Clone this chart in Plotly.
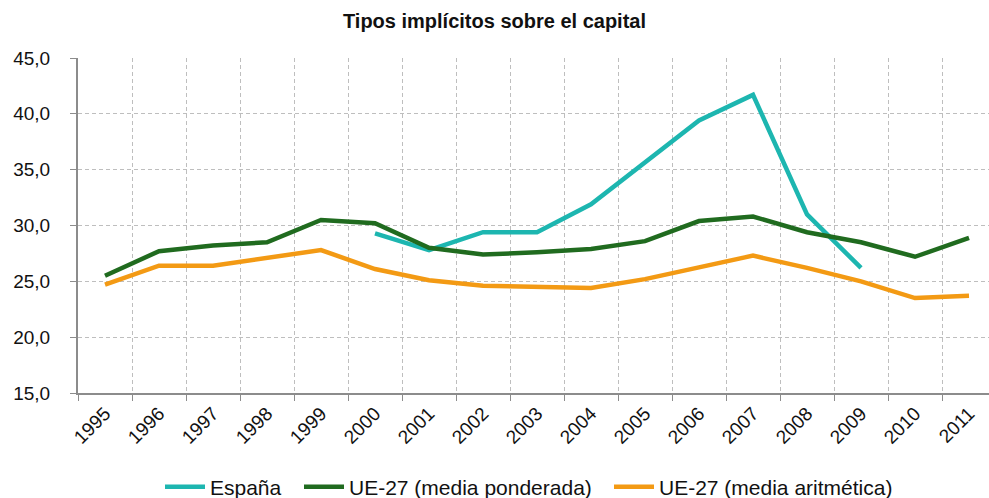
import plotly.graph_objects as go

years = [str(y) for y in range(1995, 2012)]
espana = [None, None, None, None, None, 29.3, 27.8, 29.4, 29.4, 31.9, 35.6, 39.4, 41.7, 31.0, 26.2, None, None]
ue27_pond = [25.5, 27.7, 28.2, 28.5, 30.5, 30.2, 28.0, 27.4, 27.6, 27.9, 28.6, 30.4, 30.8, 29.4, 28.5, 27.2, 28.9]
ue27_arit = [24.7, 26.4, 26.4, 27.1, 27.8, 26.1, 25.1, 24.6, 24.5, 24.4, 25.2, 26.2, 27.3, 26.2, 25.0, 23.5, 23.7]
y_ticks = [15, 20, 25, 30, 35, 40, 45]

series = [
    ("España", espana, "#1DB6B0", "legend", 163),
    ("UE-27 (media ponderada)", ue27_pond, "#206B1F", "legend2", 302),
    ("UE-27 (media aritmética)", ue27_arit, "#F39A14", "legend3", 612),
]

fig = go.Figure()
for name, vals, color, lg, _ in series:
    fig.add_trace(go.Scatter(
        x=years, y=vals, name=name, mode="lines", legend=lg,
        line=dict(color=color, width=4.5), connectgaps=False,
    ))

grid = "#BEBEBE"
axis = "#8C8C8C"
legends = {}
for name, vals, color, lg, px in series:
    legends[lg] = dict(
        orientation="h", x=(px - 3) / 989, xanchor="left", xref="container",
        y=1 - 487 / 498, yanchor="middle", yref="container",
        font=dict(size=21, color="#111111"), itemwidth=40, bgcolor="rgba(0,0,0,0)",
    )

fig.update_layout(
    width=989, height=498,
    margin=dict(l=78, r=0, t=58, b=105),
    paper_bgcolor="white", plot_bgcolor="white",
    separators=",.",
    font=dict(family="Liberation Sans, Arial, sans-serif", color="#1a1a1a"),
    title=dict(text="<b>Tipos implícitos sobre el capital</b>", x=0.5, xanchor="center",
               y=1 - 21 / 498, yanchor="middle", font=dict(size=20, color="#111111")),
    showlegend=True,
    xaxis=dict(
        type="category", range=[-0.5, 16.37], tickson="boundaries", automargin=False,
        showgrid=True, gridcolor=grid, griddash="4px,3px", gridwidth=1,
        showline=True, linecolor=axis, linewidth=2,
        ticks="outside", ticklen=6, tickcolor=axis,
        tickangle=-45, tickfont=dict(size=19, color="#111111"),
    ),
    yaxis=dict(
        range=[15, 45], tickvals=y_ticks, tickformat=".1f", automargin=False,
        showgrid=True, gridcolor=grid, griddash="4px,3px", gridwidth=1,
        showline=True, linecolor=axis, linewidth=2,
        ticks="outside", ticklen=6, tickcolor=axis, ticklabelstandoff=16,
        tickfont=dict(size=19, color="#111111"), zeroline=False,
    ),
    **legends,
)

fig.write_html(
    "out.html",
    config={"displayModeBar": False},
    post_script="document.body.style.margin='0';document.body.style.overflow='hidden';",
)
